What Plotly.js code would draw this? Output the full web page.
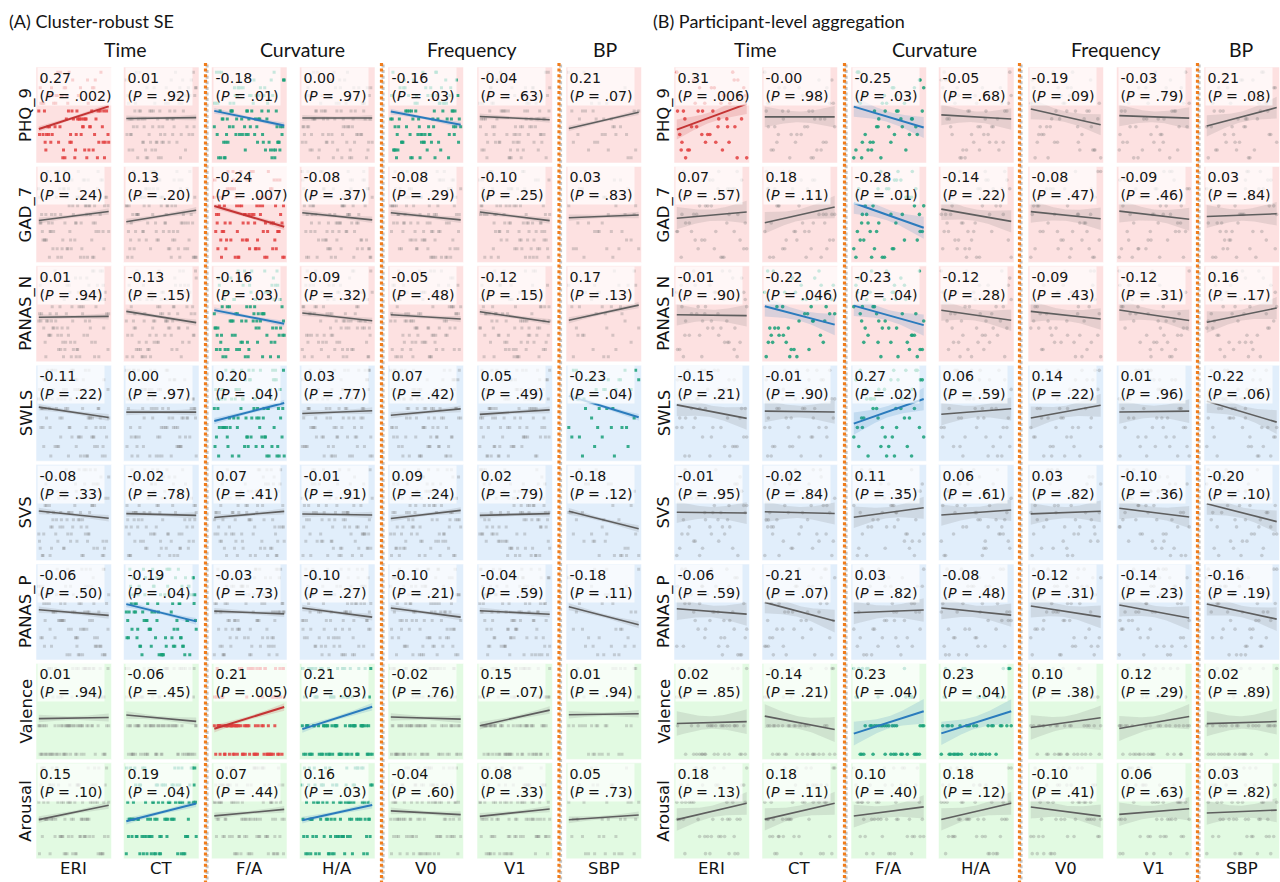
<!DOCTYPE html>
<html>
<head>
<meta charset="utf-8">
<script src="https://cdn.plot.ly/plotly-3.0.1.min.js"></script>
<style>html,body{margin:0;padding:0;background:#fff;}#chart{width:1280px;height:882px;}</style>
</head>
<body>
<div id="chart"></div>
<script>
// ---------------- DATA ----------------
const outcomes = ["PHQ_9","GAD_7","PANAS_N","SWLS","SVS","PANAS_P","Valence","Arousal"];
const predictors = ["ERI","CT","F/A","H/A","V0","V1","SBP"];
const groupTitles = ["Time","Curvature","Frequency","BP"];
const panelTitles = ["(A) Cluster-robust SE","(B) Participant-level aggregation"];

// Panel A: observation-level values (outcomes)
const yA_PHQ9 = [3,6,1,8,4,10,2,5,7,0,9,3,6,4,11,2,5,8,1,7,3,9,5,0,6,4,10,2,8,3,5,7,1,6,4,9,2,11,5,3,8,0,6,4,7,2,10,5,1,9,3,6,8,4,2,7,5,0,11,3,6,9,1,4,8,2,5,7,3,10,6,0,4,9,2,5,8,1,7,3,6,11,4,2,9,5,0,8,3,6];
const yA_GAD7 = [2,7,4,0,9,5,1,6,3,8,10,4,2,6,0,7,5,3,9,1,6,4,8,2,5,10,0,3,7,6,1,9,4,2,8,5,3,6,0,7,10,4,1,5,9,2,6,3,8,0,4,7,1,5,10,3,6,2,9,4,8,0,5,7,1,3,6,10,2,4,9,5,0,8,3,7,1,6,4,2,10,5,9,3,0,7,6,1,4,8];
const yA_PANASN = [5,1,9,3,12,6,0,8,4,10,2,7,11,5,3,9,1,6,8,4,0,10,7,2,12,5,3,9,6,1,8,4,11,2,7,5,0,10,3,6,9,1,4,12,8,2,5,7,0,11,3,6,10,4,1,9,5,2,8,7,3,12,0,6,4,10,1,5,9,2,7,11,3,8,6,0,4,10,5,2,9,1,7,3,12,6,8,4,0,5];
const yA_SWLS = [4,8,2,6,0,5,9,3,7,1,5,2,8,4,6,0,9,3,7,5,1,6,2,8,4,9,0,3,5,7,6,1,8,2,4,9,5,3,0,7,2,6,8,1,4,5,9,3,7,0,6,2,8,4,1,5,9,7,3,6,0,2,8,5,4,1,7,9,3,6,2,0,5,8,4,7,1,9,3,6,5,2,8,0,4,7,3,9,1,6];
const yA_SVS = [7,2,10,5,0,8,3,12,6,1,9,4,11,6,2,8,5,0,10,3,7,1,12,4,9,6,2,11,5,8,0,3,10,7,4,1,9,6,12,2,5,8,0,11,3,7,4,10,1,6,9,2,5,12,8,0,3,7,11,4,6,1,10,5,9,2,8,3,0,12,6,4,7,1,11,5,9,3,8,2,10,6,0,4,7,12,1,5,9,3];
const yA_PANASP = [6,1,9,4,0,7,3,10,5,2,8,6,1,4,9,0,7,3,5,10,2,8,6,4,1,9,5,0,7,3,10,6,2,8,4,1,5,9,3,7,0,6,10,2,8,4,5,1,9,3,7,6,0,10,4,2,8,5,1,9,3,6,7,0,4,10,2,5,8,1,9,3,6,4,7,0,10,5,2,8,1,6,3,9,4,7,0,5,2,8];
const yA_Valence = [2,1,4,2,3,1,2,4,1,3,2,1,2,4,3,1,2,1,4,2,3,1,2,2,4,1,3,2,1,4,2,3,1,2,1,4,3,2,1,2,4,1,3,2,2,1,4,3,1,2,4,2,1,3,2,1,4,2,3,1,2,4,1,2,3,1,2,4,2,1,3,2,4,1,2,3,1,4,2,1,2,3,4,1,2,2,1,3,4,2];
const yA_Arousal = [3,5,2,4,1,6,3,2,5,4,1,3,6,2,4,5,3,1,2,4,6,3,5,2,1,4,3,5,6,2,3,4,1,5,2,3,6,4,2,1,5,3,4,2,6,3,1,5,4,2,3,6,1,4,5,2,3,4,1,6,2,5,3,4,2,1,5,3,6,4,2,3,5,1,4,2,6,3,5,4,1,2,3,5,4,6,2,3,1,4];

// Panel A: observation-level values (predictors)
const xA_ERI = [12,55,78,33,91,5,47,68,22,84,39,61,9,73,28,95,50,17,66,42,80,3,58,35,88,14,70,45,26,99,62,8,53,76,31,19,86,44,65,2,57,38,93,24,71,10,49,82,36,60,15,97,41,74,29,6,67,52,89,20,43,79,11,63,34,92,56,25,7,81,48,69,16,37,100,59,27,72,4,46,85,32,64,18,77,40,94,21,54,1];
const xA_CT = [66,21,84,3,47,92,35,58,14,77,40,8,69,26,95,51,18,73,37,60,2,88,45,29,81,11,64,53,97,33,6,75,42,19,86,57,24,70,9,49,90,31,62,16,79,44,1,67,28,99,55,13,83,38,72,4,59,46,20,94,34,76,10,52,87,25,65,41,7,80,48,17,96,30,61,23,74,5,56,89,36,15,68,43,98,27,50,12,78,39];
const xA_FA = [45,9,72,30,88,56,17,64,3,81,38,95,24,60,11,77,49,33,92,6,68,41,19,85,53,27,98,14,70,36,58,2,83,47,22,65,90,8,74,31,52,16,87,43,28,61,97,12,79,35,5,67,50,93,20,75,39,10,84,57,26,71,44,1,63,89,32,55,18,80,46,7,96,29,69,13,59,86,23,40,76,4,51,91,34,62,15,82,48,25];
const xA_HA = [83,27,50,6,71,39,94,15,62,44,8,77,33,58,21,99,46,12,68,85,3,54,30,91,19,65,41,74,10,57,36,88,24,49,2,80,63,16,96,42,28,70,55,7,86,34,60,18,93,47,13,75,38,66,0,52,89,23,45,79,31,97,14,61,40,5,72,26,84,53,20,67,9,92,35,58,78,11,48,29,87,64,1,43,73,17,56,95,37,69];
const xA_V0 = [28,74,5,59,41,93,16,67,35,82,50,10,88,23,64,44,97,2,71,38,55,19,86,31,62,7,78,47,26,90,13,69,52,36,99,21,58,4,80,43,66,29,91,12,75,48,33,60,8,85,39,22,95,54,17,70,1,63,46,83,27,57,11,92,37,68,3,76,49,20,87,42,61,14,96,32,53,6,79,45,24,65,89,18,72,40,9,84,56,30];
const xA_V1 = [91,37,62,8,79,24,53,3,70,45,16,86,31,58,97,12,66,40,83,20,49,75,6,94,35,61,27,88,14,52,73,1,44,68,19,99,56,30,81,10,63,42,85,22,5,77,38,92,54,17,69,33,96,2,48,80,25,59,13,87,41,65,7,74,50,29,90,18,57,36,98,11,71,46,23,84,60,4,67,39,15,93,51,28,76,9,43,82,21,64];
const xA_SBP = [null,118,null,null,132,null,105,null,null,141,null,124,null,null,112,null,null,137,null,127,null,null,109,null,145,null,null,121,null,133,null,null,115,null,null,139,null,102,null,126,null,null,148,null,117,null,null,130,null,null,108,null,135,null,null,122,null,143,null,null,111,null,128,null,null,119,null,null,140,null,104,null,131,null,null,125,null,146,null,null,113,null,136,null,null,120,null,107,null,null];

// Panel B: participant-level values (outcomes)
const yB_PHQ9 = [4,8,1,6,10,3,7,0,5,9,2,6,11,4,7,1,8,3,5,9,0,6,2,10,4,7,3,8,1,5,9,6,2,11,4,0,7,3,8,5,1,6,10,2,9,4];
const yB_GAD7 = [3,7,0,9,5,2,8,4,10,1,6,3,8,5,0,7,2,9,4,6,1,10,3,5,8,2,7,0,4,9,6,1,5,3,8,10,2,6,4,7,0,9,3,5,1,8];
const yB_PANASN = [6,2,10,4,8,0,12,5,3,9,7,1,11,6,4,8,2,10,5,3,7,0,9,12,4,6,1,8,3,11,5,7,2,9,6,0,10,4,8,3,12,5,1,7,9,2];
const yB_SWLS = [5,1,8,3,6,9,0,4,7,2,5,8,1,6,3,9,4,0,7,5,2,8,6,3,1,9,4,7,0,5,2,6,8,3,9,1,4,7,5,0,6,2,8,3,9,4];
const yB_SVS = [8,3,11,6,0,9,4,12,2,7,5,10,1,8,6,3,11,4,9,0,7,5,12,2,10,6,1,8,4,9,3,11,7,0,5,10,2,8,6,12,4,1,9,3,7,5];
const yB_PANASP = [7,2,9,5,0,8,4,10,1,6,3,8,5,9,2,7,0,4,10,6,3,1,8,5,9,2,7,4,6,0,10,3,8,1,5,9,4,7,2,6,0,8,3,10,5,1];
const yB_Valence = [2,1,3,2,4,1,2,1,3,2,1,2,4,1,2,3,1,2,2,1,4,3,2,1,2,1,3,2,4,1,2,2,1,3,1,2,4,2,1,3,2,1,2,4,1,3];
const yB_Arousal = [4,2,5,3,1,6,3,4,2,5,1,3,4,6,2,5,3,1,4,2,6,3,5,4,1,2,3,6,4,5,2,3,1,4,5,3,6,2,4,1,3,5,2,4,6,3];

// Panel B: participant-level values (predictors)
const xB_ERI = [22,67,8,51,85,36,74,14,59,93,41,3,78,29,62,17,88,47,70,33,97,11,55,25,81,40,6,66,19,90,49,31,73,2,58,84,27,44,95,13,64,37,80,9,53,71];
const xB_CT = [57,12,80,34,95,46,5,69,27,88,18,63,40,99,8,74,31,52,85,21,66,3,44,77,15,92,38,59,10,71,49,26,83,1,61,36,97,20,54,79,13,68,42,87,29,6];
const xB_FA = [33,76,4,61,19,90,47,12,83,55,28,97,8,69,41,74,15,58,36,86,1,63,24,93,50,10,79,44,21,67,99,30,53,6,88,39,72,17,60,82,26,45,94,13,57,35];
const xB_HA = [71,18,54,92,7,43,85,29,62,3,77,38,96,14,50,81,25,66,9,58,34,89,46,1,73,20,60,98,31,12,83,40,68,5,55,27,94,16,48,79,36,63,11,87,23,52];
const xB_V0 = [15,62,88,37,4,73,49,26,95,58,11,80,33,67,2,91,44,20,76,53,8,64,39,85,29,97,17,56,70,42,6,83,35,60,24,99,47,13,78,31,90,52,19,68,40,86];
const xB_V1 = [84,30,57,9,72,45,98,21,63,38,6,79,51,16,90,33,68,2,55,87,27,74,12,47,95,41,60,19,82,35,66,4,49,93,24,71,14,58,86,39,1,77,44,62,28,53];
const xB_SBP = [118,131,107,142,124,113,136,102,128,147,120,110,139,126,105,133,116,144,122,109,130,137,114,125,101,141,119,134,108,127,146,112,123,138,104,129,117,143,111,135,121,106,132,148,115,127];

// Correlations (rows = outcomes, cols = predictors)
const corrA = [
  [0.27, 0.01, -0.18, 0.00, -0.16, -0.04, 0.21],
  [0.10, 0.13, -0.24, -0.08, -0.08, -0.10, 0.03],
  [0.01, -0.13, -0.16, -0.09, -0.05, -0.12, 0.17],
  [-0.11, 0.00, 0.20, 0.03, 0.07, 0.05, -0.23],
  [-0.08, -0.02, 0.07, -0.01, 0.09, 0.02, -0.18],
  [-0.06, -0.19, -0.03, -0.10, -0.10, -0.04, -0.18],
  [0.01, -0.06, 0.21, 0.21, -0.02, 0.15, 0.01],
  [0.15, 0.19, 0.07, 0.16, -0.04, 0.08, 0.05]
];
const pvalA = [
  [".002", ".92", ".01", ".97", ".03", ".63", ".07"],
  [".24", ".20", ".007", ".37", ".29", ".25", ".83"],
  [".94", ".15", ".03", ".32", ".48", ".15", ".13"],
  [".22", ".97", ".04", ".77", ".42", ".49", ".04"],
  [".33", ".78", ".41", ".91", ".24", ".79", ".12"],
  [".50", ".04", ".73", ".27", ".21", ".59", ".11"],
  [".94", ".45", ".005", ".03", ".76", ".07", ".94"],
  [".10", ".04", ".44", ".03", ".60", ".33", ".73"]
];
const corrB = [
  [0.31, -0.00, -0.25, -0.05, -0.19, -0.03, 0.21],
  [0.07, 0.18, -0.28, -0.14, -0.08, -0.09, 0.03],
  [-0.01, -0.22, -0.23, -0.12, -0.09, -0.12, 0.16],
  [-0.15, -0.01, 0.27, 0.06, 0.14, 0.01, -0.22],
  [-0.01, -0.02, 0.11, 0.06, 0.03, -0.10, -0.20],
  [-0.06, -0.21, 0.03, -0.08, -0.12, -0.14, -0.16],
  [0.02, -0.14, 0.23, 0.23, 0.10, 0.12, 0.02],
  [0.18, 0.18, 0.10, 0.18, -0.10, 0.06, 0.03]
];
const pvalB = [
  [".006", ".98", ".03", ".68", ".09", ".79", ".08"],
  [".57", ".11", ".01", ".22", ".47", ".46", ".84"],
  [".90", ".046", ".04", ".28", ".43", ".31", ".17"],
  [".21", ".90", ".02", ".59", ".22", ".96", ".06"],
  [".95", ".84", ".35", ".61", ".82", ".36", ".10"],
  [".59", ".07", ".82", ".48", ".31", ".23", ".19"],
  [".85", ".21", ".04", ".04", ".38", ".29", ".89"],
  [".13", ".11", ".40", ".12", ".41", ".63", ".82"]
];

// ---------------- STYLE / GEOMETRY ----------------
const W = 1280, H = 882;
const colLeft = [[36,123.5,211.5,299.5,388,477,566],[674,762,851,938.5,1028,1116.5,1204]];
const rowTop = [67,166.4,265.8,365.2,464.6,564,663.4,762.8];
const cellW = 75.5, cellH = 96;
const rowBg = ["#fde1e1","#fde1e1","#fde1e1","#e1eefb","#e1eefb","#e1eefb","#e2fae2","#e2fae2"];
const groupX = [[125,302,472,605],[755,934,1116,1241]];
const panelTitleX = [7, 651];
const sepX = [[205.5,381.5,559],[844.5,1019.5,1197.5]];
const bandN = [1000, 80];      // effective n used for the confidence band width
const markerSym = ["square","circle"];
const markerSize = [3, 3.6];
const FONT = "'DejaVu Sans', 'Liberation Sans', sans-serif";
const TFONT = "Lato, 'Open Sans', sans-serif";

const panels = [
  {y:[yA_PHQ9,yA_GAD7,yA_PANASN,yA_SWLS,yA_SVS,yA_PANASP,yA_Valence,yA_Arousal],
   x:[xA_ERI,xA_CT,xA_FA,xA_HA,xA_V0,xA_V1,xA_SBP], r:corrA, p:pvalA},
  {y:[yB_PHQ9,yB_GAD7,yB_PANASN,yB_SWLS,yB_SVS,yB_PANASP,yB_Valence,yB_Arousal],
   x:[xB_ERI,xB_CT,xB_FA,xB_HA,xB_V0,xB_V1,xB_SBP], r:corrB, p:pvalB}
];

function fmtR(v){ return ((v < 0 || Object.is(v,-0)) ? "-" : "") + Math.abs(v).toFixed(2); }

const data = [];
const layout = {
  width: W, height: H,
  margin: {l:0, r:0, t:0, b:0},
  paper_bgcolor: "#ffffff",
  plot_bgcolor: "rgba(0,0,0,0)",
  showlegend: false,
  hovermode: false,
  font: {family: FONT},
  shapes: [], annotations: []
};

let k = 0;
for (let pi = 0; pi < 2; pi++) {
  const P = panels[pi];
  for (let i = 0; i < outcomes.length; i++) {
    for (let j = 0; j < predictors.length; j++) {
      k++;
      const xid = "x" + (k === 1 ? "" : k), yid = "y" + (k === 1 ? "" : k);
      const xs = P.x[j], ys = P.y[i];
      const n = Math.min(xs.length, ys.length);
      const px = [], py = [];
      for (let t = 0; t < n; t++) if (xs[t] != null && ys[t] != null) { px.push(xs[t]); py.push(ys[t]); }
      const m = px.length;
      const xm = px.reduce((a,b)=>a+b,0)/m, ym = py.reduce((a,b)=>a+b,0)/m;
      const sx = Math.sqrt(px.reduce((a,b)=>a+(b-xm)*(b-xm),0)/m);
      const sy = Math.sqrt(py.reduce((a,b)=>a+(b-ym)*(b-ym),0)/m);
      const xmin = Math.min(...px), xmax = Math.max(...px);
      const ymin = Math.min(...py), ymax = Math.max(...py);
      const r = P.r[i][j], pTxt = P.p[i][j], pv = parseFloat("0" + pTxt);
      const slope = r * sy / sx;
      const sres = sy * Math.sqrt(1 - r*r);

      let ptCol, lnCol, bandCol, lw;
      if (pv < 0.01) { ptCol = "rgba(226,62,62,0.85)"; lnCol = "#c43434"; bandCol = "rgba(196,52,52,0.17)"; lw = 2; }
      else if (pv < 0.05) { ptCol = "rgba(24,160,120,0.85)"; lnCol = "#2a7bbd"; bandCol = "rgba(42,123,189,0.17)"; lw = 2; }
      else { ptCol = "rgba(120,120,120,0.3)"; lnCol = "#5e5e5e"; bandCol = "rgba(90,90,90,0.14)"; lw = 1.6; }

      // points
      data.push({type:"scatter", mode:"markers", x:px, y:py, xaxis:xid, yaxis:yid,
        marker:{symbol:markerSym[pi], size:markerSize[pi], color:ptCol, line:{width:0}}, hoverinfo:"skip"});
      // band
      const bx = [], up = [], lo = [];
      const steps = 40;
      for (let s = 0; s <= steps; s++) {
        const xv = xmin + (xmax - xmin) * s / steps;
        const fit = ym + slope * (xv - xm);
        const se = sres * Math.sqrt(1/bandN[pi] + (xv - xm)*(xv - xm)/(bandN[pi]*sx*sx));
        bx.push(xv); up.push(fit + 1.96*se); lo.push(fit - 1.96*se);
      }
      data.push({type:"scatter", mode:"lines", x:bx.concat(bx.slice().reverse()), y:up.concat(lo.slice().reverse()),
        fill:"toself", fillcolor:bandCol, line:{width:0}, xaxis:xid, yaxis:yid, hoverinfo:"skip"});
      // regression line
      data.push({type:"scatter", mode:"lines", x:[xmin, xmax], y:[ym + slope*(xmin-xm), ym + slope*(xmax-xm)],
        line:{color:lnCol, width:lw}, xaxis:xid, yaxis:yid, hoverinfo:"skip"});

      const l = colLeft[pi][j], tp = rowTop[i];
      const xs_ = xmax - xmin, ys_ = ymax - ymin;
      layout["xaxis" + (k === 1 ? "" : k)] = {domain:[l/W, (l+cellW)/W], anchor:yid,
        range:[xmin - 0.04*xs_, xmax + 0.04*xs_], showgrid:false, zeroline:false, showticklabels:false,
        ticks:"", showline:false, fixedrange:true};
      layout["yaxis" + (k === 1 ? "" : k)] = {domain:[1-(tp+cellH)/H, 1-tp/H], anchor:xid,
        range:[ymin - 0.06*ys_, ymax + 0.06*ys_], showgrid:false, zeroline:false, showticklabels:false,
        ticks:"", showline:false, fixedrange:true};

      layout.shapes.push({type:"rect", xref:"paper", yref:"paper", layer:"below",
        x0:l/W, x1:(l+cellW)/W, y0:1-(tp+cellH)/H, y1:1-tp/H, fillcolor:rowBg[i],
        line:{color:"rgba(255,255,255,0.55)", width:1}});

      layout.annotations.push({xref:xid + " domain", yref:yid + " domain", x:0, y:1,
        xanchor:"left", yanchor:"top", xshift:1, yshift:0, align:"left", showarrow:false,
        text: fmtR(r) + "<br>(<i>P</i> = " + pTxt + ")",
        font:{family:FONT, size:14.2, color:"#141414"},
        bgcolor:"rgba(255,255,255,0.72)", borderpad:1.5});
    }
  }
  // row labels
  for (let i = 0; i < outcomes.length; i++) {
    layout.annotations.push({xref:"paper", yref:"paper", x:(colLeft[pi][0]-10)/W, y:1-(rowTop[i]+cellH/2)/H,
      xanchor:"center", yanchor:"middle", textangle:-90, showarrow:false, text:outcomes[i],
      font:{family:FONT, size:16.5, color:"#141414"}});
  }
  // column labels
  for (let j = 0; j < predictors.length; j++) {
    layout.annotations.push({xref:"paper", yref:"paper", x:(colLeft[pi][j]+cellW/2)/W, y:1-868/H,
      xanchor:"center", yanchor:"middle", showarrow:false, text:predictors[j],
      font:{family:FONT, size:16.5, color:"#141414"}});
  }
  // group titles
  for (let g = 0; g < groupTitles.length; g++) {
    layout.annotations.push({xref:"paper", yref:"paper", x:groupX[pi][g]/W, y:1-49/H,
      xanchor:"center", yanchor:"middle", showarrow:false, text:groupTitles[g],
      font:{family:TFONT, size:19.5, color:"#141414"}});
  }
  // panel title
  layout.annotations.push({xref:"paper", yref:"paper", x:panelTitleX[pi]/W, y:1-21/H,
    xanchor:"left", yanchor:"middle", showarrow:false, text:panelTitles[pi],
    font:{family:TFONT, size:18, color:"#141414"}});
  // dotted separators
  for (const sx of sepX[pi]) {
    layout.shapes.push({type:"line", xref:"paper", yref:"paper", layer:"above",
      x0:(sx+1.6)/W, x1:(sx+1.6)/W, y0:1-64.5/H, y1:0,
      line:{color:"rgba(150,150,150,0.55)", width:3, dash:"3px,2.6px"}});
    layout.shapes.push({type:"line", xref:"paper", yref:"paper", layer:"above",
      x0:sx/W, x1:sx/W, y0:1-63/H, y1:0,
      line:{color:"#f07d1c", width:3.2, dash:"3px,2.6px"}});
  }
}

Plotly.newPlot("chart", data, layout, {staticPlot:true, displayModeBar:false});
</script>
</body>
</html>
